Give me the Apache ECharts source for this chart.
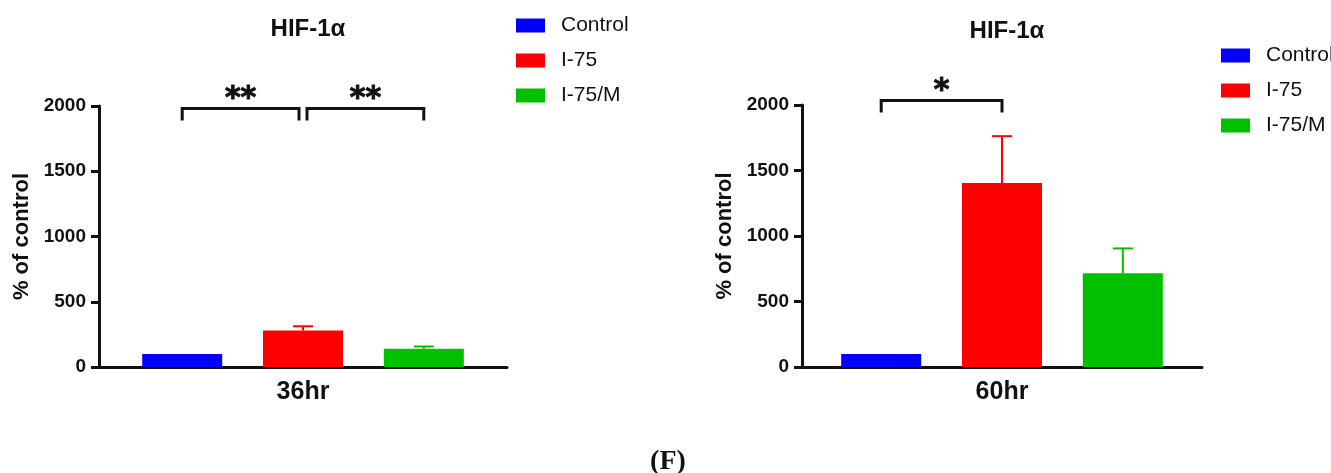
<!DOCTYPE html>
<html>
<head>
<meta charset="utf-8">
<script src="https://cdn.jsdelivr.net/npm/echarts@6/dist/echarts.min.js"></script>
<style>
  html, body { margin: 0; padding: 0; background: #fff; }
  #chart { width: 1331px; height: 473px; }
</style>
</head>
<body>
<div id="chart"></div>
<script>
// groups and colours
const groups = ['Control', 'I-75', 'I-75/M'];
const groupColors = ['#0000ff', '#ff0000', '#00c000'];

// time points (one panel each)
const timePoints = ['36hr', '60hr'];

// mean values (% of control) per group, [36hr, 60hr]
const controlMean = [100, 100];
const i75Mean = [280, 1405];
const i75mMean = [140, 715];

// upper end of the error bar (mean + SEM), null = no bar
const controlUpper = [null, null];
const i75Upper = [312, 1762];
const i75mUpper = [157, 905];

// significance brackets: panel, from group, to group, y value, stars
const bracketPanel = [0, 0, 1];
const bracketFrom = [0, 1, 0];
const bracketTo = [1, 2, 1];
const bracketY = [1980, 1980, 2035];
const bracketStars = ['**', '**', '*'];

const yTicks = [0, 500, 1000, 1500, 2000];

const FONT = '"Liberation Sans", Arial, sans-serif';
const BAR_W = 80;
const BAR_GAP = 0.51;
const BAR_STEP = BAR_W * (1 + BAR_GAP);

const chart = echarts.init(document.getElementById('chart'));

const means = [controlMean, i75Mean, i75mMean];
const uppers = [controlUpper, i75Upper, i75mUpper];

// 根据组序号计算柱子中心的像素偏移
function groupX(api, g) {
    return api.coord([0, 0])[0] + (g - 1) * BAR_STEP;
}

const grids = [
    { left: 99, top: 106, width: 408, height: 261 },
    { left: 802, top: 105, width: 400, height: 262 },
];

const series = [];
timePoints.forEach((tp, p) => {
    groups.forEach((name, g) => {
        series.push({
            name: name,
            type: 'bar',
            xAxisIndex: p,
            yAxisIndex: p,
            barWidth: BAR_W,
            barGap: (BAR_GAP * 100) + '%',
            itemStyle: { color: groupColors[g] },
            data: [means[g][p]],
            emphasis: { disabled: true },
        });
    });

    // error bars (upper only)
    const errData = [];
    groups.forEach((name, g) => {
        if (uppers[g][p] !== null) {
            errData.push([0, means[g][p], uppers[g][p], g]);
        }
    });
    series.push({
        type: 'custom',
        xAxisIndex: p,
        yAxisIndex: p,
        clip: false,
        z: 5,
        encode: { x: 0, y: [1, 2] },
        data: errData,
        renderItem: (params, api) => {
            const g = api.value(3);
            const x = groupX(api, g);
            const yMean = api.coord([0, api.value(1)])[1];
            const yUp = api.coord([0, api.value(2)])[1];
            const style = { stroke: groupColors[g], lineWidth: 2 };
            return {
                type: 'group',
                children: [
                    { type: 'line', shape: { x1: x, y1: yMean, x2: x, y2: yUp }, style },
                    { type: 'line', shape: { x1: x - 10, y1: yUp, x2: x + 10, y2: yUp }, style },
                ],
            };
        },
    });

    // significance brackets
    const brData = [];
    bracketPanel.forEach((bp, i) => {
        if (bp === p) brData.push([0, bracketY[i], bracketFrom[i], bracketTo[i], i]);
    });
    series.push({
        type: 'custom',
        xAxisIndex: p,
        yAxisIndex: p,
        clip: false,
        z: 6,
        data: brData,
        renderItem: (params, api) => {
            const i = api.value(4);
            const from = api.value(2);
            const to = api.value(3);
            // 两个括号共用一个端点时各自往里缩一点
            const shared = (g) => bracketPanel.filter((bp, k) => bp === p && k !== i &&
                (bracketFrom[k] === g || bracketTo[k] === g)).length > 0;
            const x1 = groupX(api, from) + (shared(from) ? 4 : 0);
            const x2 = groupX(api, to) - (shared(to) ? 4 : 0);
            const yTop = api.coord([0, api.value(1)])[1];
            const yLeg = yTop + 12;
            const st = { stroke: '#111', lineWidth: 3, fill: null };
            return {
                type: 'group',
                children: [
                    { type: 'polyline', shape: { points: [[x1, yLeg], [x1, yTop], [x2, yTop], [x2, yLeg]] }, style: st },
                    {
                        type: 'text',
                        x: (x1 + x2) / 2,
                        y: yTop - 9,
                        style: {
                            text: bracketStars[i],
                            fill: '#111',
                            stroke: '#111',
                            lineWidth: 1,
                            font: 'bold 30px "DejaVu Sans", sans-serif',
                            align: 'center',
                            verticalAlign: 'middle',
                        },
                    },
                ],
            };
        },
    });
});

const option = {
    backgroundColor: '#fff',
    animation: false,
    textStyle: { fontFamily: FONT },
    title: [
        { text: 'HIF-1α', left: 303, top: 12, textAlign: 'center',
          textStyle: { fontSize: 24, fontWeight: 'bold', color: '#111', fontFamily: FONT } },
        { text: 'HIF-1α', left: 1002, top: 14, textAlign: 'center',
          textStyle: { fontSize: 24, fontWeight: 'bold', color: '#111', fontFamily: FONT } },
        { text: '(F)', left: 663, top: 443, textAlign: 'center',
          textStyle: { fontSize: 28, fontWeight: 'bold', color: '#111', fontFamily: '"Liberation Serif", "Times New Roman", serif' } },
    ],
    legend: [
        { left: 511, top: 10 },
        { left: 1216, top: 40 },
    ].map((pos) => ({
        ...pos,
        orient: 'vertical',
        data: groups,
        icon: 'rect',
        itemWidth: 29,
        itemHeight: 14,
        itemGap: 14,
        selectedMode: false,
        textStyle: { fontSize: 21, color: '#111', fontFamily: FONT, padding: [0, 0, 0, 11] },
    })),
    grid: grids,
    xAxis: timePoints.map((tp, p) => ({
        type: 'category',
        gridIndex: p,
        data: [tp],
        axisLine: { lineStyle: { color: '#111', width: 3 } },
        axisTick: { alignWithLabel: true, length: 10, lineStyle: { color: '#111', width: 3 } },
        axisLabel: { fontSize: 25, fontWeight: 'bold', color: '#111', margin: 13, fontFamily: FONT },
    })),
    yAxis: timePoints.map((tp, p) => ({
        type: 'value',
        gridIndex: p,
        min: yTicks[0],
        max: yTicks[yTicks.length - 1],
        interval: yTicks[1] - yTicks[0],
        name: '% of control',
        nameLocation: 'middle',
        nameGap: 66,
        nameTextStyle: { fontSize: 22, fontWeight: 'bold', color: '#111', fontFamily: FONT },
        axisLine: { show: true, lineStyle: { color: '#111', width: 3 } },
        axisTick: { show: true, length: 8, lineStyle: { color: '#111', width: 3 } },
        axisLabel: { fontSize: 19, fontWeight: 'bold', color: '#111', margin: 13, fontFamily: FONT,
                     formatter: (v) => String(v) },
        splitLine: { show: false },
    })),
    series: series,
};

chart.setOption(option);
</script>
</body>
</html>
